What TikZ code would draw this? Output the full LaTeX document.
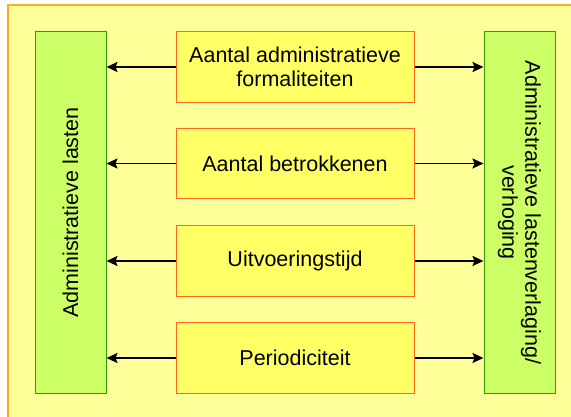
\documentclass[tikz,border=0pt]{standalone}
\usepackage{fontspec}
\setmainfont{Liberation Sans}
\usetikzlibrary{arrows.meta}
\definecolor{bgyellow}{HTML}{FFFF99}
\definecolor{bgborder}{HTML}{FFAA22}
\definecolor{boxyellow}{HTML}{FFFF66}
\definecolor{boxborder}{HTML}{FF6622}
\definecolor{boxgreen}{HTML}{CCFF66}
\definecolor{greenborder}{HTML}{339900}
\begin{document}
\begin{tikzpicture}[x=1pt,y=1pt,
  factor/.style={draw=boxborder, fill=boxyellow, line width=1pt, inner sep=0pt,
    minimum width=238pt, minimum height=70.5pt, align=center,
    font=\fontsize{21.5}{24.5}\selectfont},
  sidebox/.style={draw=greenborder, fill=boxgreen, line width=1pt, inner sep=0pt,
    minimum width=71pt, minimum height=361pt},
  sidetext/.style={align=center, inner sep=0pt, font=\fontsize{21.5}{23}\selectfont},
  arr/.style={line width=1.8pt, -{Stealth[length=11pt,width=10pt,inset=2pt]}}]
\useasboundingbox (0,0) rectangle (571,416);
\draw[draw=bgborder, fill=bgyellow, line width=1.3pt] (8,-10) rectangle (585,411);
\node[sidebox] (L) at (70.5,203.5) {};
\node[sidetext, rotate=90] (Lt) at (L.center) {Administratieve lasten};
\node[sidebox] (R) at (519.5,203.5) {};
\node[sidetext, rotate=-90] (Rt) at (R.center) {Administratieve lastenverlaging/\\verhoging};
\node[factor] (f1) at (295,349) {Aantal administratieve\\formaliteiten};
\node[factor] (f2) at (295,252.5) {Aantal betrokkenen};
\node[factor] (f3) at (295,155) {Uitvoeringstijd};
\node[factor] (f4) at (295,58) {Periodiciteit};
\foreach \f in {f1,f2,f3,f4}{
  \draw[arr] (\f.west) -- (L.east |- \f.west);
  \draw[arr] (\f.east) -- (R.west |- \f.east);
}
\end{tikzpicture}
\end{document}
